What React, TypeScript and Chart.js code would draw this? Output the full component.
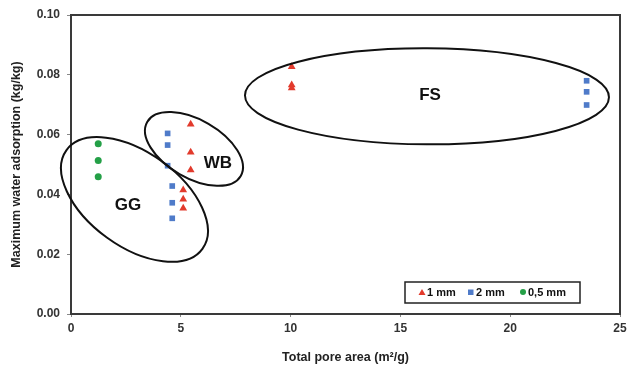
import React, { useEffect, useRef } from "react";
import { Chart, registerables } from "chart.js";

Chart.register(...registerables);

// Series data (x: total pore area m²/g, y: max water adsorption kg/kg)
const mm1X = [10.05, 10.05, 10.05, 5.45, 5.45, 5.45, 5.11, 5.11, 5.11];
const mm1Y = [0.0827, 0.0766, 0.0756, 0.0635, 0.0541, 0.0482, 0.0415, 0.0384, 0.0354];
const mm2X = [23.48, 23.48, 23.48, 4.4, 4.4, 4.4, 4.61, 4.61, 4.61];
const mm2Y = [0.078, 0.0743, 0.0699, 0.0604, 0.0565, 0.0496, 0.0428, 0.0372, 0.032];
const mm05X = [1.24, 1.24, 1.24];
const mm05Y = [0.0569, 0.0513, 0.0459];

const seriesLabels = ["1 mm", "2 mm", "0,5 mm"];
const xTicks = [0, 5, 10, 15, 20, 25];
const yTicks = [0, 0.02, 0.04, 0.06, 0.08, 0.1];

// Cluster annotations (centre in data units)
const groupNames = ["FS", "WB", "GG"];
const groupLabelX = [16.35, 6.69, 2.6];
const groupLabelY = [0.0733, 0.0505, 0.0365];
const ellipseCX = [16.21, 5.6, 2.89];
const ellipseCY = [0.0728, 0.0552, 0.0383];
const ellipseA = [182, 54, 84];
const ellipseB = [48, 29, 47];
const ellipseAngle = [0.3, 30, 36];

const FONT = "'Liberation Sans', Arial, sans-serif";

const zip = (xs: number[], ys: number[]) => xs.map((x, i) => ({ x, y: ys[i] }));

const annotationPlugin = {
  id: "annot",
  afterDatasetsDraw(chart: any) {
    const { ctx, chartArea, scales } = chart;
    const xs = scales.x;
    const ys = scales.y;
    ctx.save();
    // frame
    ctx.strokeStyle = "#3a3a3a";
    ctx.lineWidth = 2;
    ctx.strokeRect(chartArea.left, chartArea.top, chartArea.right - chartArea.left, chartArea.bottom - chartArea.top);
    // ellipses
    ctx.strokeStyle = "#111";
    ctx.lineWidth = 2;
    for (let i = 0; i < groupNames.length; i++) {
      const cx = xs.getPixelForValue(ellipseCX[i]);
      const cy = ys.getPixelForValue(ellipseCY[i]);
      ctx.beginPath();
      ctx.ellipse(cx, cy, ellipseA[i], ellipseB[i], (ellipseAngle[i] * Math.PI) / 180, 0, Math.PI * 2);
      ctx.stroke();
    }
    // group labels
    ctx.fillStyle = "#111";
    ctx.font = `bold 17px ${FONT}`;
    ctx.textAlign = "center";
    ctx.textBaseline = "middle";
    for (let i = 0; i < groupNames.length; i++) {
      ctx.fillText(groupNames[i], xs.getPixelForValue(groupLabelX[i]), ys.getPixelForValue(groupLabelY[i]));
    }
    // legend box
    const boxL = 405, boxT = 282, boxW = 175, boxH = 21;
    ctx.fillStyle = "#fff";
    ctx.fillRect(boxL, boxT, boxW, boxH);
    ctx.strokeStyle = "#222";
    ctx.lineWidth = 1.5;
    ctx.strokeRect(boxL, boxT, boxW, boxH);
    const starts = [419, 468, 520];
    ctx.font = `bold 11px ${FONT}`;
    ctx.textAlign = "left";
    ctx.textBaseline = "middle";
    const my = boxT + boxH / 2 + 0.5;
    chart.data.datasets.forEach((ds: any, i: number) => {
      const x0 = starts[i];
      ctx.fillStyle = ds.backgroundColor;
      if (ds.pointStyle === "triangle") {
        ctx.beginPath();
        ctx.moveTo(x0 + 3, my - 4);
        ctx.lineTo(x0 + 6.5, my + 2);
        ctx.lineTo(x0 - 0.5, my + 2);
        ctx.closePath();
        ctx.fill();
      } else if (ds.pointStyle === "rect") {
        ctx.fillRect(x0, my - 3.5, 5.5, 5.5);
      } else {
        ctx.beginPath();
        ctx.arc(x0 + 3, my - 1, 3, 0, Math.PI * 2);
        ctx.fill();
      }
      ctx.fillStyle = "#111";
      ctx.fillText(ds.label, x0 + 8, my);
    });
    ctx.restore();
  },
};

export default function App() {
  const ref = useRef<HTMLCanvasElement | null>(null);
  useEffect(() => {
    document.body.style.margin = "0";
    document.body.style.background = "#fff";
    const chart = new Chart(ref.current as HTMLCanvasElement, {
      type: "scatter",
      data: {
        datasets: [
          {
            label: seriesLabels[0],
            data: zip(mm1X, mm1Y),
            pointStyle: "triangle",
            backgroundColor: "#e23a2c",
            borderColor: "#e23a2c",
            borderWidth: 0,
            pointRadius: 4.5,
          },
          {
            label: seriesLabels[1],
            data: zip(mm2X, mm2Y),
            pointStyle: "rect",
            backgroundColor: "#4f7bc9",
            borderColor: "#4f7bc9",
            borderWidth: 0,
            pointRadius: 4,
          },
          {
            label: seriesLabels[2],
            data: zip(mm05X, mm05Y),
            pointStyle: "circle",
            backgroundColor: "#24a047",
            borderColor: "#24a047",
            borderWidth: 0,
            pointRadius: 3.5,
          },
        ],
      },
      options: {
        animation: false,
        responsive: false,
        maintainAspectRatio: false,
        layout: { padding: { top: 15, right: 7, left: 0, bottom: 0 } },
        plugins: { legend: { display: false }, tooltip: { enabled: false } },
        scales: {
          x: {
            type: "linear",
            min: 0,
            max: 25,
            afterBuildTicks: (s: any) => {
              s.ticks = xTicks.map((v) => ({ value: v }));
            },
            afterFit: (s: any) => {
              s.height = 55;
              s.paddingRight = 0;
              s.paddingLeft = 0;
            },
            border: { display: false },
            grid: { drawOnChartArea: false, drawTicks: true, tickLength: 3, color: "#888" },
            ticks: {
              color: "#333",
              font: { family: FONT, size: 12, weight: "bold" },
              padding: 4,
              maxRotation: 0,
            },
            title: {
              display: true,
              text: "Total pore area (m²/g)",
              color: "#222",
              font: { family: FONT, size: 12.5, weight: "bold" },
              padding: { top: 12 },
            },
          },
          y: {
            type: "linear",
            min: 0,
            max: 0.1,
            afterBuildTicks: (s: any) => {
              s.ticks = yTicks.map((v) => ({ value: v }));
            },
            afterFit: (s: any) => {
              s.width = 71;
              s.paddingTop = 0;
              s.paddingBottom = 0;
            },
            border: { display: false },
            grid: { drawOnChartArea: false, drawTicks: true, tickLength: 4, color: "#888" },
            ticks: {
              color: "#333",
              font: { family: FONT, size: 12, weight: "bold" },
              padding: 7,
              callback: (v: any) => Number(v).toFixed(2),
            },
            title: {
              display: true,
              text: "Maximum water adsorption (kg/kg)",
              color: "#222",
              font: { family: FONT, size: 12.5, weight: "bold" },
              padding: { top: 9, bottom: 4 },
            },
          },
        },
      },
      plugins: [annotationPlugin],
    } as any);
    return () => chart.destroy();
  }, []);
  return (
    <div style={{ width: 627, height: 369 }}>
      <canvas ref={ref} width={627} height={369} style={{ display: "block" }} />
    </div>
  );
}
